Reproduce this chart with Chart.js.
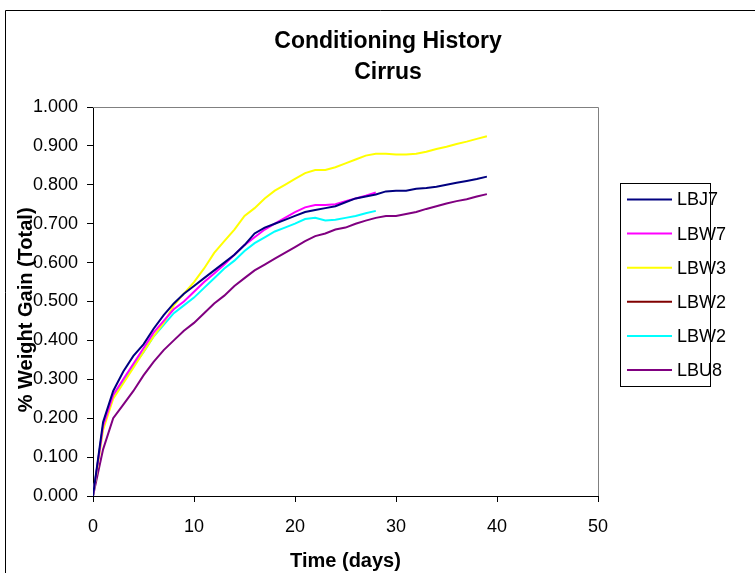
<!DOCTYPE html>
<html>
<head>
<meta charset="utf-8">
<script src="https://cdn.jsdelivr.net/npm/chart.js@4/dist/chart.umd.min.js"></script>
<style>
    body { margin: 0; background: #fff; }
    #wrap { width: 755px; height: 573px; }
</style>
</head>
<body>
<div id="wrap"><canvas id="cond_chart" width="755" height="573"></canvas></div>
<script>
// temps en jours
const days = [0, 1, 2, 3, 4, 5, 6, 7, 8, 9, 10, 11, 12, 13, 14, 15, 16, 17, 18, 19,
    20, 21, 22, 23, 24, 25, 26, 27, 28, 29, 30, 31, 32, 33, 34, 35, 36, 37, 38, 39];

// % prise de poids par echantillon
const lbj7 = [0, 0.19, 0.27, 0.32, 0.36, 0.39, 0.43, 0.465, 0.495, 0.52, 0.54, 0.56, 0.58, 0.60, 0.62,
    0.645, 0.675, 0.69, 0.70, 0.71, 0.72, 0.73, 0.735, 0.74, 0.745, 0.755, 0.765, 0.77, 0.775,
    0.783, 0.785, 0.785, 0.79, 0.792, 0.795, 0.80, 0.805, 0.81, 0.815, 0.821];
const lbw7 = [0, 0.18, 0.26, 0.30, 0.34, 0.38, 0.42, 0.45, 0.48, 0.50, 0.525, 0.55, 0.572, 0.595, 0.62,
    0.645, 0.665, 0.685, 0.70, 0.715, 0.73, 0.742, 0.748, 0.748, 0.75, 0.758, 0.765, 0.772, 0.78];
const lbw3 = [0, 0.17, 0.25, 0.29, 0.33, 0.37, 0.41, 0.445, 0.49, 0.52, 0.55, 0.585, 0.625, 0.655, 0.685,
    0.72, 0.74, 0.765, 0.785, 0.80, 0.815, 0.83, 0.838, 0.838, 0.845, 0.855, 0.865, 0.875, 0.88,
    0.88, 0.878, 0.878, 0.88, 0.885, 0.892, 0.898, 0.905, 0.911, 0.918, 0.925];
const lbw2a = [];
const lbw2b = [0, 0.18, 0.26, 0.295, 0.335, 0.37, 0.41, 0.44, 0.47, 0.49, 0.51, 0.535, 0.56, 0.585, 0.605,
    0.63, 0.65, 0.665, 0.68, 0.69, 0.70, 0.712, 0.715, 0.708, 0.71, 0.715, 0.72, 0.727, 0.733];
const lbu8 = [0, 0.12, 0.20, 0.235, 0.27, 0.31, 0.345, 0.375, 0.40, 0.425, 0.445, 0.47, 0.495, 0.515, 0.54,
    0.56, 0.58, 0.595, 0.61, 0.625, 0.64, 0.655, 0.668, 0.675, 0.685, 0.69, 0.70, 0.708, 0.715,
    0.72, 0.72, 0.725, 0.73, 0.738, 0.745, 0.752, 0.758, 0.763, 0.77, 0.776];

const seriesNames = ["LBJ7", "LBW7", "LBW3", "LBW2", "LBW2", "LBU8"];
const seriesValues = [lbj7, lbw7, lbw3, lbw2a, lbw2b, lbu8];
const seriesColors = ["#000080", "#FF00FF", "#FFFF00", "#800000", "#00FFFF", "#800080"];

const xTicks = [0, 10, 20, 30, 40, 50];

const FONT = "'Liberation Sans', Arial, sans-serif";

// cadre, titre et legende facon Excel
const excelFrame = {
    id: "excelFrame",
    afterDraw(chart) {
        const ctx = chart.ctx;
        const a = chart.chartArea;
        ctx.save();
        // cadre exterieur
        ctx.strokeStyle = "#000";
        ctx.lineWidth = 1;
        ctx.beginPath();
        ctx.moveTo(5.5, 600);
        ctx.lineTo(5.5, 10.5);
        ctx.lineTo(800, 10.5);
        ctx.stroke();
        // bord haut et droit de la zone de tracé
        ctx.strokeStyle = "#808080";
        ctx.beginPath();
        ctx.moveTo(a.left, a.top + 0.5);
        ctx.lineTo(a.right + 0.5, a.top + 0.5);
        ctx.lineTo(a.right + 0.5, a.bottom);
        ctx.stroke();
        // titre
        ctx.fillStyle = "#000";
        ctx.textAlign = "center";
        ctx.textBaseline = "alphabetic";
        ctx.font = "bold 23px " + FONT;
        ctx.fillText("Conditioning History", 388, 48);
        ctx.fillText("Cirrus", 388, 79);
        // legende
        ctx.strokeStyle = "#000";
        ctx.lineWidth = 1;
        ctx.strokeRect(620.5, 183.5, 90, 203);
        ctx.font = "18px " + FONT;
        ctx.textAlign = "left";
        ctx.textBaseline = "middle";
        chart.data.datasets.forEach((ds, i) => {
            const y = 199.5 + i * 34.1;
            ctx.strokeStyle = ds.borderColor;
            ctx.lineWidth = 2;
            ctx.beginPath();
            ctx.moveTo(627, y);
            ctx.lineTo(672, y);
            ctx.stroke();
            ctx.fillText(ds.label, 677, y + 1);
        });
        ctx.restore();
    },
};

const ctxCond = document.getElementById("cond_chart").getContext("2d");

new Chart(ctxCond, {
    type: "scatter",
    data: {
        datasets: seriesNames.map((name, i) => ({
            label: name,
            data: seriesValues[i].map((v, j) => ({ x: days[j], y: v })),
            borderColor: seriesColors[i],
            backgroundColor: seriesColors[i],
            borderWidth: 2,
            showLine: true,
            pointRadius: 0,
            tension: 0,
        })),
    },
    options: {
        responsive: false,
        animation: false,
        layout: { padding: { left: 0, top: 107, right: 157, bottom: 0 } },
        plugins: {
            legend: { display: false },
            title: { display: false },
            tooltip: { enabled: false },
        },
        scales: {
            x: {
                type: "linear",
                min: 0,
                max: 50,
                afterBuildTicks: (scale) => {
                    scale.ticks = xTicks.map((v) => ({ value: v }));
                },
                afterFit: (scale) => {
                    scale.height = 77;
                },
                grid: {
                    drawOnChartArea: false,
                    drawTicks: true,
                    tickLength: 6,
                    tickColor: "#000",
                },
                border: { color: "#000", width: 1 },
                ticks: {
                    color: "#000",
                    font: { family: FONT, size: 18 },
                    padding: 14,
                    maxRotation: 0,
                },
                title: {
                    display: true,
                    text: "Time (days)",
                    color: "#000",
                    font: { family: FONT, size: 20, weight: "bold" },
                    padding: { top: 0, bottom: 0 },
                },
            },
            y: {
                min: 0,
                max: 1,
                afterFit: (scale) => {
                    scale.width = 93;
                },
                grid: {
                    drawOnChartArea: false,
                    drawTicks: true,
                    tickLength: 6,
                    tickColor: "#000",
                },
                border: { color: "#000", width: 1 },
                ticks: {
                    stepSize: 0.1,
                    color: "#000",
                    font: { family: FONT, size: 18 },
                    padding: 9,
                    callback: (value) => value.toFixed(3),
                },
                title: {
                    display: true,
                    text: "% Weight Gain (Total)   ",
                    color: "#000",
                    font: { family: FONT, size: 20, weight: "bold" },
                    padding: { top: 14, bottom: 0 },
                },
            },
        },
    },
    plugins: [excelFrame],
});
</script>
</body>
</html>
